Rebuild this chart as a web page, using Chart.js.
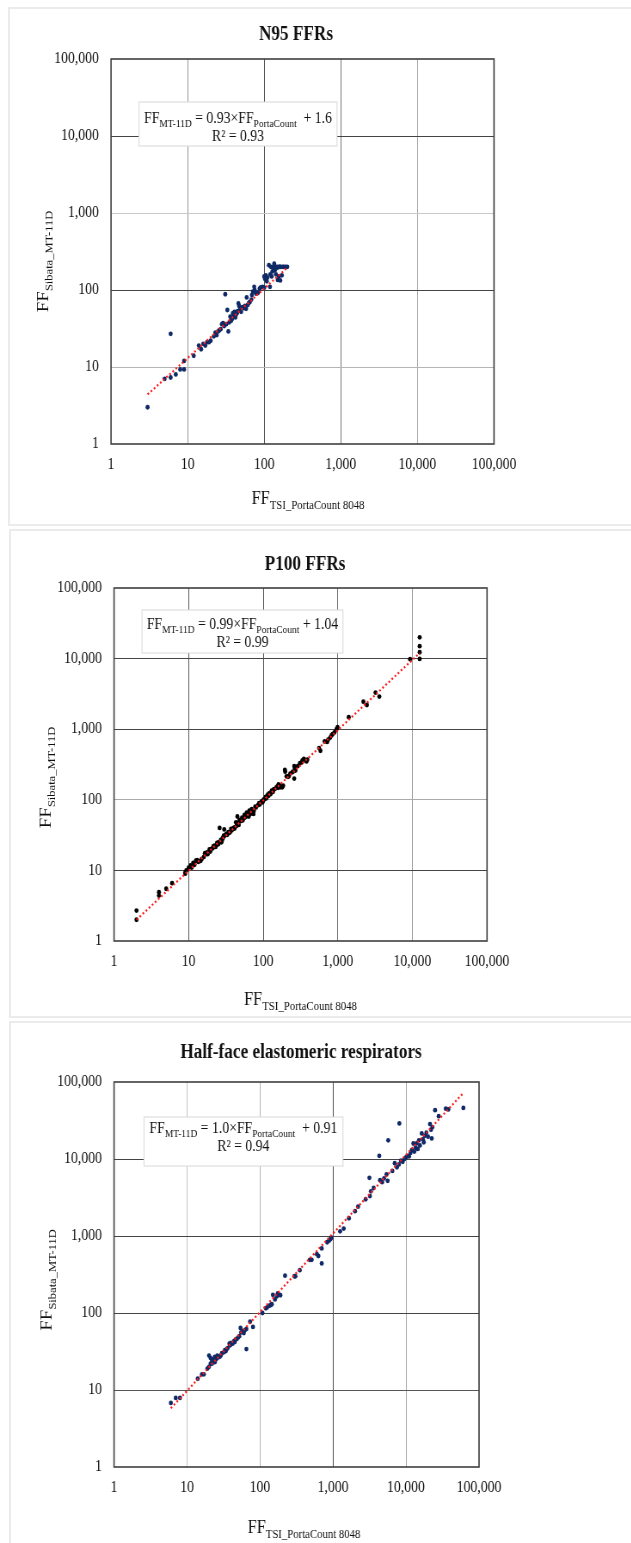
<!DOCTYPE html>
<html>
<head>
<meta charset="utf-8">
<script src="https://cdn.jsdelivr.net/npm/chart.js@4.4.1/dist/chart.umd.min.js"></script>
<style>
  body { margin: 0; width: 631px; height: 1543px; overflow: hidden; background: #fff; position: relative; }
  .card { position: absolute; border: 2px solid #ebebeb; background: #fff; }
  .wrap { position: absolute; left: 0; transform: scaleX(0.86); transform-origin: 0 0; }
  canvas { display: block; }
</style>
</head>
<body>
<div class="card" style="left:8px;top:7px;width:640px;height:515px"></div>
<div class="card" style="left:9px;top:529px;width:640px;height:485px"></div>
<div class="card" style="left:9px;top:1021px;width:640px;height:540px"></div>
<div class="wrap" style="top:0px"><canvas id="n95" width="734" height="527"></canvas></div>
<div class="wrap" style="top:528px"><canvas id="p100" width="734" height="492"></canvas></div>
<div class="wrap" style="top:1020px"><canvas id="half" width="734" height="523"></canvas></div>
<script>
// decade ticks shared by both axes of all three panels
const tickValues = [1, 10, 100, 1000, 10000, 100000];

// [FF PortaCount, FF MT-11D]
const n95Points = [[3,3],[5,7],[6,7.3],[6,27],[7,8],[8,9.3],[9,9.3],[9,12],[12,14],[14,19],[15,17],[16,20],[17,19],[18,21],[19,21],[20,22],
  [22,25],[23,28],[24,26],[25,29],[26,30],[27,31],[28,36],[29,37],[30,34],[31,88],[32,36],[33,55],[34,29],[35,38],[36,45],[37,40],
  [38,42],[39,50],[40,47],[41,52],[42,44],[43,48],[44,50],[45,53],[46,67],[47,62],[48,55],[50,52],[52,60],[54,58],[56,62],[58,57],
  [59,80],[61,64],[63,68],[65,70],[68,75],[69,86],[71,95],[74,110],[75,100],[78,90],[83,92],[87,104],[90,108],[95,110],[100,107],[100,150],
  [102,140],[105,155],[108,130],[110,145],[115,210],[119,110],[120,160],[122,200],[125,150],[128,175],[130,200],[132,190],[135,220],[138,180],
  [140,200],[142,160],[145,200],[148,195],[150,135],[152,200],[155,150],[158,200],[160,200],[162,133],[165,200],[170,155],[175,200],[180,200],
  [190,200],[200,200]];
const n95Trend = [[3,4.4],[200,195]];

const p100Points = [[2,2.7],[2,2.0],[4,4.9],[4,4.4],[5,5.5],[6,6.6],[9,9.0],[9,9.4],[9.3,10],[10,10.9],[10.6,11.8],[11,11],[11.5,12.8],[12,12],
  [12.5,13.7],[13,14],[13.5,13.2],[14.5,13.7],[15,14.5],[16,15.5],[16.5,17.5],[17,17],[17.6,18],[18,17],[19,19.8],[19.5,18.5],[20,20],[21,20.6],
  [21.5,22],[22.3,22.5],[23,21.5],[24,24.5],[24,23],[25,25],[25,23.5],[26,40],[27,27],[27.5,25],[28,26.5],[28.4,28.5],[29,29],[29.5,31],
  [30,38],[30,30.6],[31,31.5],[32,33],[33,32],[34,34.7],[35,34],[36,35],[37,38.6],[38,37],[40,40],[41,39],[42,41],[43,48],[44,43],[45,58],
  [45,45],[46,47],[47,44],[48,52],[50,50],[52,56],[53,51],[55,55],[56,61],[58,57],[60,66],[60,60],[62,61],[64,58],[65,70],[67,63],[70,74],
  [72,68],[74,63],[75,70],[78,80],[80,78],[85,84],[88,90],[90,86],[95,95],[98,92],[100,98],[102,101],[105,103],[108,110],[110,105],[112,112],
  [115,118],[118,114],[120,123],[125,120],[128,128],[130,135],[135,130],[138,140],[144,143],[150,150],[155,155],[158,148],[160,165],[165,160],
  [170,150],[175,155],[180,150],[185,158],[195,265],[197,250],[205,215],[215,212],[220,215],[230,235],[245,245],[250,250],[260,300],[260,200],
  [265,280],[270,260],[290,300],[310,330],[330,340],[335,362],[350,380],[380,350],[390,370],[560,540],[585,495],[665,670],[720,660],[740,710],
  [790,760],[822,815],[850,850],[900,900],[960,1000],[990,1070],[1400,1480],[2200,2450],[2450,2200],[3200,3300],[3600,2900],[9300,9800],
  [12500,9900],[12500,12300],[12500,15000],[12500,20000]];
const p100Trend = [[2,2.0],[12500,12000]];

const halfPoints = [[6,6.8],[7,7.9],[8,7.9],[14,14],[16,16],[17,16],[19,19],[20,20],[20,28],[21,26],[21,22],[22,24],[22,22],[23,25],[24,23],
  [24,27],[25,25],[26,28],[26,26],[28,27],[29,28],[30,30],[32,31],[33,33],[34,32],[35,34],[36,35],[38,40],[39,38],[40,41],[42,40],[44,43],
  [45,42],[46,45],[48,46],[50,48],[52,50],[54,64],[55,56],[58,58],[60,55],[62,60],[65,34],[65,62],[73,77],[80,66],[108,100],[120,115],[125,118],
  [135,125],[140,127],[145,130],[150,172],[160,150],[170,165],[175,180],[180,175],[190,170],[220,305],[295,300],[305,300],[350,360],[480,490],
  [510,490],[600,580],[630,550],[700,690],[700,440],[830,830],[880,870],[920,910],[950,950],[1250,1150],[1400,1250],[1650,1700],[2000,2100],
  [2200,2400],[2800,3000],[3150,5700],[3200,3300],[3300,3800],[3600,4200],[4300,11000],[4400,5300],[4700,5000],[5000,5600],[5400,6300],
  [5600,5200],[5700,17500],[6500,7000],[7000,8800],[7500,7800],[8000,8500],[8100,29000],[8500,9500],[9000,9200],[9500,10000],[10000,10500],
  [10500,11000],[11000,10800],[11500,12000],[12000,13000],[12600,15900],[13000,12500],[13500,14000],[14000,16000],[14500,13500],[15000,17500],
  [15500,15000],[16400,21500],[17000,18000],[17500,16500],[18000,20000],[19000,22000],[20000,19500],[21300,28400],[22000,24000],[22500,18500],
  [23000,26000],[25000,43000],[28000,36000],[35000,45000],[38000,44000],[61000,46000]];
const halfTrend = [[6,5.8],[61000,72000]];

const titles = ['N95 FFRs', 'P100 FFRs', 'Half-face elastomeric respirators'];
const slopes = ['0.93', '0.99', '1.0'];
const intercepts = ['  + 1.6', ' + 1.04', '  + 0.91'];
const r2 = ['0.93', '0.99', '0.94'];

const SERIF = "'Liberation Serif', 'Times New Roman', serif";
const CW = 734;  // canvas width before the 0.86 horizontal squeeze

function drawRich(ctx, parts, cx, baseY) {
  let w = 0;
  parts.forEach(p => { ctx.font = p[1] + 'px ' + SERIF; w += ctx.measureText(p[0]).width; });
  let x = cx - w / 2;
  ctx.textAlign = 'left';
  ctx.textBaseline = 'alphabetic';
  parts.forEach(p => {
    ctx.font = p[1] + 'px ' + SERIF;
    ctx.fillText(p[0], x, baseY + p[2]);
    x += ctx.measureText(p[0]).width;
  });
}

const panelDecor = {
  id: 'panelDecor',
  afterDraw(chart, args, o) {
    const ctx = chart.ctx, a = chart.chartArea;
    ctx.save();
    ctx.strokeStyle = '#3f3f3f';
    ctx.lineWidth = 1.6;
    ctx.strokeRect(a.left, a.top, a.right - a.left, a.bottom - a.top);

    ctx.fillStyle = '#111';
    ctx.font = 'bold 20px ' + SERIF;
    ctx.textAlign = 'center';
    ctx.textBaseline = 'alphabetic';
    ctx.fillText(o.title, o.titleX, o.titleY + 6.6);

    drawRich(ctx, [['FF', 19, 0], ['TSI_PortaCount 8048', 12.5, 5]], o.xTitleX, o.xTitleY + 6.3);
    ctx.save();
    ctx.translate(o.yTitleX, o.yTitleY);
    ctx.rotate(-Math.PI / 2);
    drawRich(ctx, [['FF', 19, 0], ['Sibata_MT-11D', 12.5, 5]], 0, 6.3);
    ctx.restore();

    const b = o.box;
    ctx.fillStyle = '#fff';
    ctx.fillRect(b[0], b[1], b[2] - b[0], b[3] - b[1]);
    ctx.strokeStyle = '#d8d8d8';
    ctx.lineWidth = 1;
    ctx.strokeRect(b[0], b[1], b[2] - b[0], b[3] - b[1]);
    ctx.fillStyle = '#111';
    const cx = (b[0] + b[2]) / 2;
    drawRich(ctx, [['FF', 16, 0], ['MT-11D', 11, 4], [' = ' + o.slope + '×FF', 16, 0], ['PortaCount', 11, 4], [o.intercept, 16, 0]], cx, o.lineY[0] + 5.3);
    drawRich(ctx, [['R² = ' + o.r2, 16, 0]], cx, o.lineY[1] + 5.3);
    ctx.restore();
  }
};

function makeChart(id, pts, trend, dotColor, L, decor) {
  const el = document.getElementById(id);
  const H = el.height;
  const axisBase = {
    type: 'logarithmic', min: 1, max: 100000,
    afterBuildTicks: s => { s.ticks = tickValues.map(v => ({ value: v })); },
    border: { display: false }
  };
  return new Chart(el, {
    type: 'scatter',
    data: {
      datasets: [
        { type: 'line', data: trend.map(p => ({ x: p[0], y: p[1] })), borderColor: '#ff1a1a', borderWidth: 2.2,
          borderDash: [2, 2.6], pointRadius: 0, fill: false, tension: 0 },
        { data: pts.map(p => ({ x: p[0], y: p[1] })), backgroundColor: dotColor, borderColor: dotColor,
          pointRadius: 2.4, borderWidth: 0 }
      ]
    },
    options: {
      responsive: false, animation: false, devicePixelRatio: 1, events: [],
      layout: { padding: { left: 0, top: L.top, right: CW - L.right, bottom: 0 } },
      plugins: { legend: { display: false }, tooltip: { enabled: false }, panelDecor: decor },
      scales: {
        x: Object.assign({}, axisBase, {
          afterFit: s => { s.height = H - L.bottom; },
          ticks: { callback: v => v.toLocaleString('en-US'), font: { family: SERIF, size: 16 }, color: '#111',
                   padding: 11, maxRotation: 0, autoSkip: false },
          grid: { color: L.xGrid, drawTicks: false, lineWidth: 1 }
        }),
        y: Object.assign({}, axisBase, {
          afterFit: s => { s.width = L.left; },
          ticks: { callback: v => v.toLocaleString('en-US'), font: { family: SERIF, size: 16 }, color: '#111',
                   padding: 14, autoSkip: false },
          grid: { color: L.yGrid, drawTicks: false, lineWidth: 1 }
        })
      }
    },
    plugins: [panelDecor]
  });
}

const T = 'rgba(0,0,0,0)';
makeChart('n95', n95Points, n95Trend, '#0f2a66',
  { left: 129.1, right: 574.4, top: 59, bottom: 444,
    xGrid: [T, '#9a9a9a', '#555', '#707070', '#a8a8a8', T], yGrid: [T, '#b5b5b5', '#444', '#c8c8c8', '#444', T] },
  { title: titles[0], titleX: 344.2, titleY: 33, xTitleX: 358.1, xTitleY: 498, yTitleX: 50, yTitleY: 261.5,
    box: [161.6, 102, 391.9, 146], lineY: [118, 135.7], slope: slopes[0], intercept: intercepts[0], r2: r2[0] });

makeChart('p100', p100Points, p100Trend, '#000',
  { left: 132.6, right: 566.3, top: 60, bottom: 413,
    xGrid: [T, '#555', '#555', '#777', '#999', T], yGrid: [T, '#444', '#aaa', '#444', '#444', T] },
  { title: titles[1], titleX: 354.7, titleY: 35, xTitleX: 349.4, xTitleY: 471, yTitleX: 52.3, yTitleY: 249.5,
    box: [165.1, 82, 398.8, 125], lineY: [96, 113.7], slope: slopes[1], intercept: intercepts[1], r2: r2[1] });

makeChart('half', halfPoints, halfTrend, '#0f2a66',
  { left: 132.6, right: 557, top: 62, bottom: 447,
    xGrid: [T, '#c0c0c0', '#b0b0b0', '#555', '#aaa', T], yGrid: [T, '#555', '#444', '#444', '#444', T] },
  { title: titles[2], titleX: 350, titleY: 31, xTitleX: 353.5, xTitleY: 507, yTitleX: 53.5, yTitleY: 260,
    box: [167.4, 97, 398.8, 146], lineY: [107.3, 126], slope: slopes[2], intercept: intercepts[2], r2: r2[2] });
</script>
</body>
</html>
